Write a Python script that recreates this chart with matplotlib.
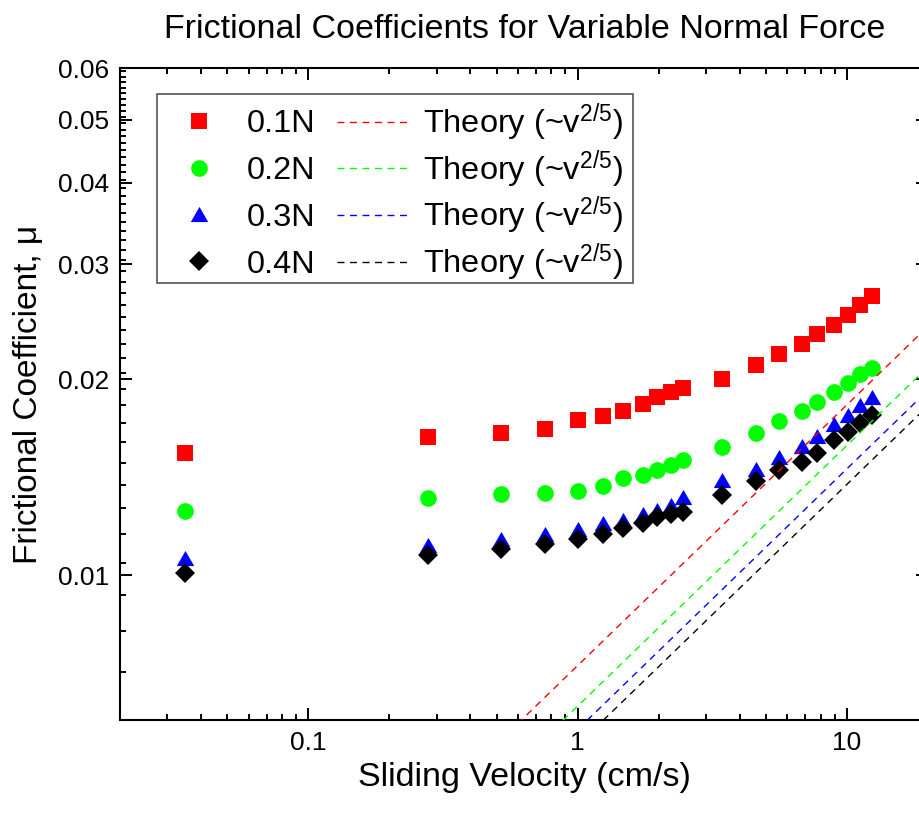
import matplotlib
matplotlib.use("Agg")
import matplotlib.pyplot as plt
import numpy as np
from matplotlib.patches import Rectangle
from matplotlib.ticker import FixedLocator, FixedFormatter, LogLocator, NullFormatter

plt.rcParams['font.family'] = ['Liberation Sans', 'DejaVu Sans']
plt.rcParams['mathtext.fontset'] = 'custom'
plt.rcParams['mathtext.rm'] = 'Liberation Sans'
plt.rcParams['mathtext.it'] = 'Liberation Sans:italic'
plt.rcParams['mathtext.default'] = 'regular'

# ---- data ----
velocity = [0.035, 0.278, 0.519, 0.76, 1.0, 1.239, 1.48, 1.745, 1.975, 2.217,
            2.456, 3.43, 4.59, 5.59, 6.80, 7.74, 8.98, 10.09, 11.14, 12.36]
mu_01N = [0.01540, 0.01632, 0.01656, 0.01674, 0.01730, 0.01755, 0.01788, 0.01834,
          0.01875, 0.01909, 0.01937, 0.02001, 0.02099, 0.02185, 0.02266, 0.02342,
          0.02419, 0.02509, 0.02597, 0.02684]
mu_02N = [0.01255, 0.01316, 0.01332, 0.01339, 0.01346, 0.01370, 0.01408, 0.01426,
          0.01453, 0.01479, 0.01504, 0.01573, 0.01652, 0.01727, 0.01785, 0.01845,
          0.01909, 0.01975, 0.02034, 0.02083]
mu_03N = [0.01062, 0.01114, 0.01135, 0.01156, 0.01177, 0.01203, 0.01218, 0.01240,
          0.01260, 0.01282, 0.01318, 0.01398, 0.01454, 0.01517, 0.01577, 0.01635,
          0.01704, 0.01759, 0.01823, 0.01875]
mu_04N = [0.01007, 0.01074, 0.01098, 0.01117, 0.01135, 0.01156, 0.01181, 0.01203,
          0.01228, 0.01243, 0.01251, 0.01330, 0.01394, 0.01449, 0.01493, 0.01539,
          0.01611, 0.01660, 0.01711, 0.01759]
series_labels = ['0.1N', '0.2N', '0.3N', '0.4N']
theory_coef = [0.00727, 0.00630, 0.00580, 0.00549]
theory_exponent = 2 / 5
theory_v_range = [0.3, 30.0]
theory_label = 'Theory (~v$^{2/5}$)'

x_major = [0.1, 1, 10]
x_major_labels = ['0.1', '1', '10']
y_major = [0.01, 0.02, 0.03, 0.04, 0.05, 0.06]
y_major_labels = ['0.01', '0.02', '0.03', '0.04', '0.05', '0.06']

# ---- figure ----
W, H = 920, 815
fig = plt.figure(figsize=(W / 100, H / 100), dpi=100)
L, R, T, B = 120, 928, 68, 720
ax = fig.add_axes([L / W, (H - B) / H, (R - L) / W, (B - T) / H])
ax.set_xscale('log')
ax.set_yscale('log')
ax.set_xlim(0.02, 20)
ax.set_ylim(0.006, 0.06)

colors = ['#FF0000', '#00FF00', '#0000FF', '#000000']
tri = [(0, 0.866), (-1, -0.866), (1, -0.866)]
markers = ['s', 'o', tri, 'D']
msizes = [11.0, 12.0, 12.6, 9.8]
data = [mu_01N, mu_02N, mu_03N, mu_04N]

handles_pts = []
for mu, c, m, ms, lab in zip(data, colors, markers, msizes, series_labels):
    h, = ax.plot(velocity, mu, linestyle='none', marker=m, markersize=ms,
                 color=c, markeredgewidth=0, label=lab, zorder=3)
    handles_pts.append(h)

handles_lines = []
vv = np.array(theory_v_range)
for C, c in zip(theory_coef, colors):
    h, = ax.plot(vv, C * vv ** theory_exponent, linestyle=(0, (5, 4)),
                 color=c, linewidth=1.0, label=theory_label, zorder=4)
    handles_lines.append(h)

# ticks
ax.xaxis.set_major_locator(FixedLocator(x_major))
ax.xaxis.set_major_formatter(FixedFormatter(x_major_labels))
ax.xaxis.set_minor_locator(LogLocator(base=10, subs=np.arange(2, 10)))
ax.xaxis.set_minor_formatter(NullFormatter())

step = 0.01 / 9
y_minor = [0.006 + k * step for k in range(0, 60)]
y_minor = [y for y in y_minor if y <= 0.0601 and min(abs(y - m) for m in y_major) > 1e-6]
ax.yaxis.set_major_locator(FixedLocator(y_major))
ax.yaxis.set_major_formatter(FixedFormatter(y_major_labels))
ax.yaxis.set_minor_locator(FixedLocator(y_minor))
ax.yaxis.set_minor_formatter(NullFormatter())

ax.tick_params(which='both', direction='in', top=True, right=True, width=1.4, color='black')
ax.tick_params(which='major', length=8.6, labelsize=19, pad=8)
ax.tick_params(which='minor', length=4.3)
for sp in ax.spines.values():
    sp.set_linewidth(1.5)

ax.set_xlabel('Sliding Velocity (cm/s)', fontsize=24.5, labelpad=5)
ax.set_ylabel('Frictional Coefficient, μ', fontsize=24, labelpad=10)
fig.text(525 / W, 1 - 30 / H, 'Frictional Coefficients for Variable Normal Force',
         fontsize=24.5, ha='center', va='center')

# legend: frame + two aligned columns
frame = Rectangle((157 / W, 1 - 283 / H), (633 - 157) / W, (283 - 94) / H,
                  transform=fig.transFigure, facecolor='white', edgecolor='#555555',
                  linewidth=1.2, zorder=5, clip_on=False)
ax.add_patch(frame)
fs = 23.4
leg1 = ax.legend(handles_pts, series_labels, loc='upper left',
                 bbox_to_anchor=(164 / W, 1 - 109 / H), bbox_transform=fig.transFigure,
                 borderaxespad=0, borderpad=0, fontsize=fs, frameon=False,
                 handlelength=2.15, handletextpad=0.4, labelspacing=0.52)
leg1.set_zorder(6)
ax.add_artist(leg1)
leg2 = ax.legend(handles_lines, [theory_label] * 4, loc='upper left',
                 bbox_to_anchor=(337 / W, 1 - 101 / H), bbox_transform=fig.transFigure,
                 borderaxespad=0, borderpad=0, fontsize=fs, frameon=False,
                 handlelength=2.15, handletextpad=0.49, labelspacing=0.12)
leg2.set_zorder(6)

fig.savefig('out.png', dpi=100)
